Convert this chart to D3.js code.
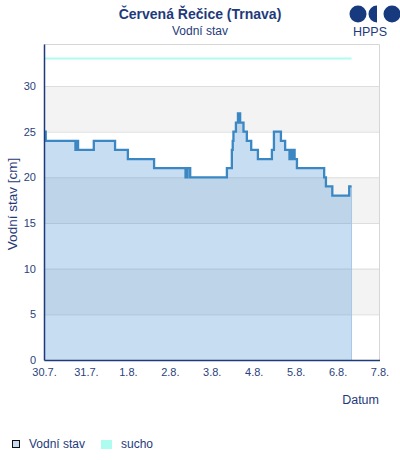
<!DOCTYPE html>
<html>
<head>
<meta charset="utf-8">
<script src="https://cdn.jsdelivr.net/npm/d3@7"></script>
<style>
  body { margin: 0; background: #fff; }
  svg { font-family: "Liberation Sans", Arial, sans-serif; }
  .tick text { fill: #2b3f7c; font-size: 11px; }
</style>
</head>
<body>
<svg id="chart" width="400" height="460"></svg>
<script>
// measured water level [cm], step changes
const times = [
  "30.7. 00:00", "30.7. 01:00", "30.7. 18:00", "30.7. 18:30", "30.7. 19:30",
  "31.7. 04:30", "31.7. 16:40", "01.8. 00:00", "01.8. 15:00",
  "02.8. 09:00", "02.8. 10:10", "02.8. 11:40",
  "03.8. 08:40", "03.8. 11:30", "03.8. 12:00", "03.8. 12:25", "03.8. 13:50",
  "03.8. 15:00", "03.8. 16:15", "03.8. 18:10", "03.8. 20:05", "03.8. 22:35",
  "04.8. 02:25", "04.8. 10:25", "04.8. 11:35", "04.8. 15:35", "04.8. 18:00",
  "04.8. 20:30", "04.8. 21:00", "04.8. 21:30", "04.8. 22:00", "04.8. 22:30", "04.8. 23:00", "04.8. 23:25",
  "05.8. 00:45", "05.8. 16:20", "05.8. 17:20", "05.8. 21:00",
  "06.8. 06:40", "06.8. 08:00"
];
const levels = [
  25, 24, 23, 24, 23,
  24, 23, 22, 21,
  20, 21, 20,
  21, 23, 24, 25, 26,
  27, 26, 25, 24, 23,
  22, 23, 25, 24, 23,
  22, 23, 22, 23, 22, 23, 22,
  21, 20, 19, 18,
  19, 19
];
const drought = 33;
const droughtEnd = "06.8. 08:00";
const xTicks = ["30.7.", "31.7.", "1.8.", "2.8.", "3.8.", "4.8.", "5.8.", "6.8.", "7.8."];
const yTicks = [0, 5, 10, 15, 20, 25, 30];

const navy = "#1f3a7a";
const parse = d3.timeParse("%d.%m. %H:%M");
const data = times.map((t, i) => ({ date: parse(t), v: levels[i] }));

const svg = d3.select("#chart");
const margin = { left: 44, right: 20, top: 44, bottom: 100 };
const W = 400, H = 460;

const x = d3.scaleTime()
  .domain([parse("30.7. 00:00"), parse("07.8. 00:00")])
  .range([margin.left, W - margin.right - 0.5]);
const y = d3.scaleLinear()
  .domain([0, 34.6])
  .range([H - margin.bottom, margin.top]);

const g = svg.append("g");

// alternating bands
const bands = [[5, 10], [15, 20], [25, 30]];
g.selectAll(".band").data(bands).enter().append("rect")
  .attr("x", x.range()[0])
  .attr("width", x.range()[1] - x.range()[0])
  .attr("y", d => y(d[1]))
  .attr("height", d => y(d[0]) - y(d[1]))
  .attr("fill", "#f3f3f3");

// grid
g.selectAll(".grid").data(yTicks.slice(1)).enter().append("line")
  .attr("x1", x.range()[0]).attr("x2", x.range()[1])
  .attr("y1", d => y(d) + 0.5).attr("y2", d => y(d) + 0.5)
  .attr("stroke", "#dddddd");

// plot border (top/right)
g.append("path")
  .attr("d", `M${x.range()[0]},${y.range()[1] + 0.5}H${x.range()[1]}V${y.range()[0]}`)
  .attr("fill", "none").attr("stroke", "#d6d6d6");

// drought line
g.append("line")
  .attr("x1", x.range()[0]).attr("x2", x(parse(droughtEnd)))
  .attr("y1", y(drought)).attr("y2", y(drought))
  .attr("stroke", "#aefcef").attr("stroke-width", 2);

// water level area + line
const area = d3.area().curve(d3.curveStepAfter)
  .x(d => x(d.date)).y0(y(0)).y1(d => y(d.v));
g.append("path").datum(data)
  .attr("d", area)
  .attr("fill", "rgba(71,141,208,0.3)");

const last = data[data.length - 1];
g.append("line")
  .attr("x1", x(last.date)).attr("x2", x(last.date))
  .attr("y1", y(last.v)).attr("y2", y(0))
  .attr("stroke", "#a9c8e6").attr("stroke-width", 1);

const line = d3.line().curve(d3.curveStepAfter)
  .x(d => x(d.date)).y(d => y(d.v));
g.append("path").datum(data)
  .attr("d", line)
  .attr("fill", "none")
  .attr("stroke", "#3a87c3")
  .attr("stroke-width", 2.3);

// axes
const yAxis = d3.axisLeft(y).tickValues(yTicks).tickSize(0).tickPadding(8);
svg.append("g").attr("transform", `translate(${margin.left},0)`).call(yAxis)
  .call(a => a.select(".domain").attr("stroke", navy).attr("stroke-width", 1.5));

const xAxis = d3.axisBottom(x)
  .tickValues(xTicks.map(t => parse(t.split(".").map(s => s.padStart(2, "0")).slice(0, 2).join(".") + ". 00:00")))
  .tickFormat((d, i) => xTicks[i]).tickSize(0).tickPadding(8);
svg.append("g").attr("transform", `translate(0,${y(0)})`).call(xAxis)
  .call(a => a.select(".domain").attr("stroke", navy).attr("stroke-width", 1.5));

// titles
svg.append("text").attr("x", 200).attr("y", 19).attr("text-anchor", "middle")
  .attr("font-size", 14).attr("font-weight", "bold").attr("fill", navy)
  .text("Červená Řečice (Trnava)");
svg.append("text").attr("x", 200).attr("y", 35).attr("text-anchor", "middle")
  .attr("font-size", 12).attr("fill", navy).text("Vodní stav");

svg.append("text")
  .attr("transform", `translate(17,204) rotate(-90)`)
  .attr("text-anchor", "middle").attr("font-size", 13.5).attr("fill", navy)
  .text("Vodní stav [cm]");
svg.append("text").attr("x", 379).attr("y", 404).attr("text-anchor", "end")
  .attr("font-size", 12.5).attr("fill", navy).text("Datum");

// logo
const logo = svg.append("g").attr("fill", "#173a7e");
logo.append("circle").attr("cx", 358).attr("cy", 14).attr("r", 8.5);
logo.append("path").attr("d", d3.arc()({ innerRadius: 0, outerRadius: 8.5, startAngle: Math.PI, endAngle: 2 * Math.PI }))
  .attr("transform", "translate(377,14)");
logo.append("circle").attr("cx", 392).attr("cy", 14).attr("r", 8.5);
svg.append("text").attr("x", 370).attr("y", 36).attr("text-anchor", "middle")
  .attr("font-size", 12.5).attr("fill", navy).text("HPPS");

// legend
const leg = svg.append("g").attr("transform", "translate(0,445)");
leg.append("rect").attr("x", 12.5).attr("y", -4.5).attr("width", 7).attr("height", 7)
  .attr("fill", "#c8ddf1").attr("stroke", "#111");
leg.append("text").attr("x", 29).attr("y", 3).attr("font-size", 12).attr("fill", navy).text("Vodní stav");
leg.append("rect").attr("x", 101).attr("y", -5).attr("width", 11).attr("height", 9)
  .attr("fill", "#aefcef");
leg.append("text").attr("x", 121).attr("y", 3).attr("font-size", 12).attr("fill", navy).text("sucho");
</script>
</body>
</html>
